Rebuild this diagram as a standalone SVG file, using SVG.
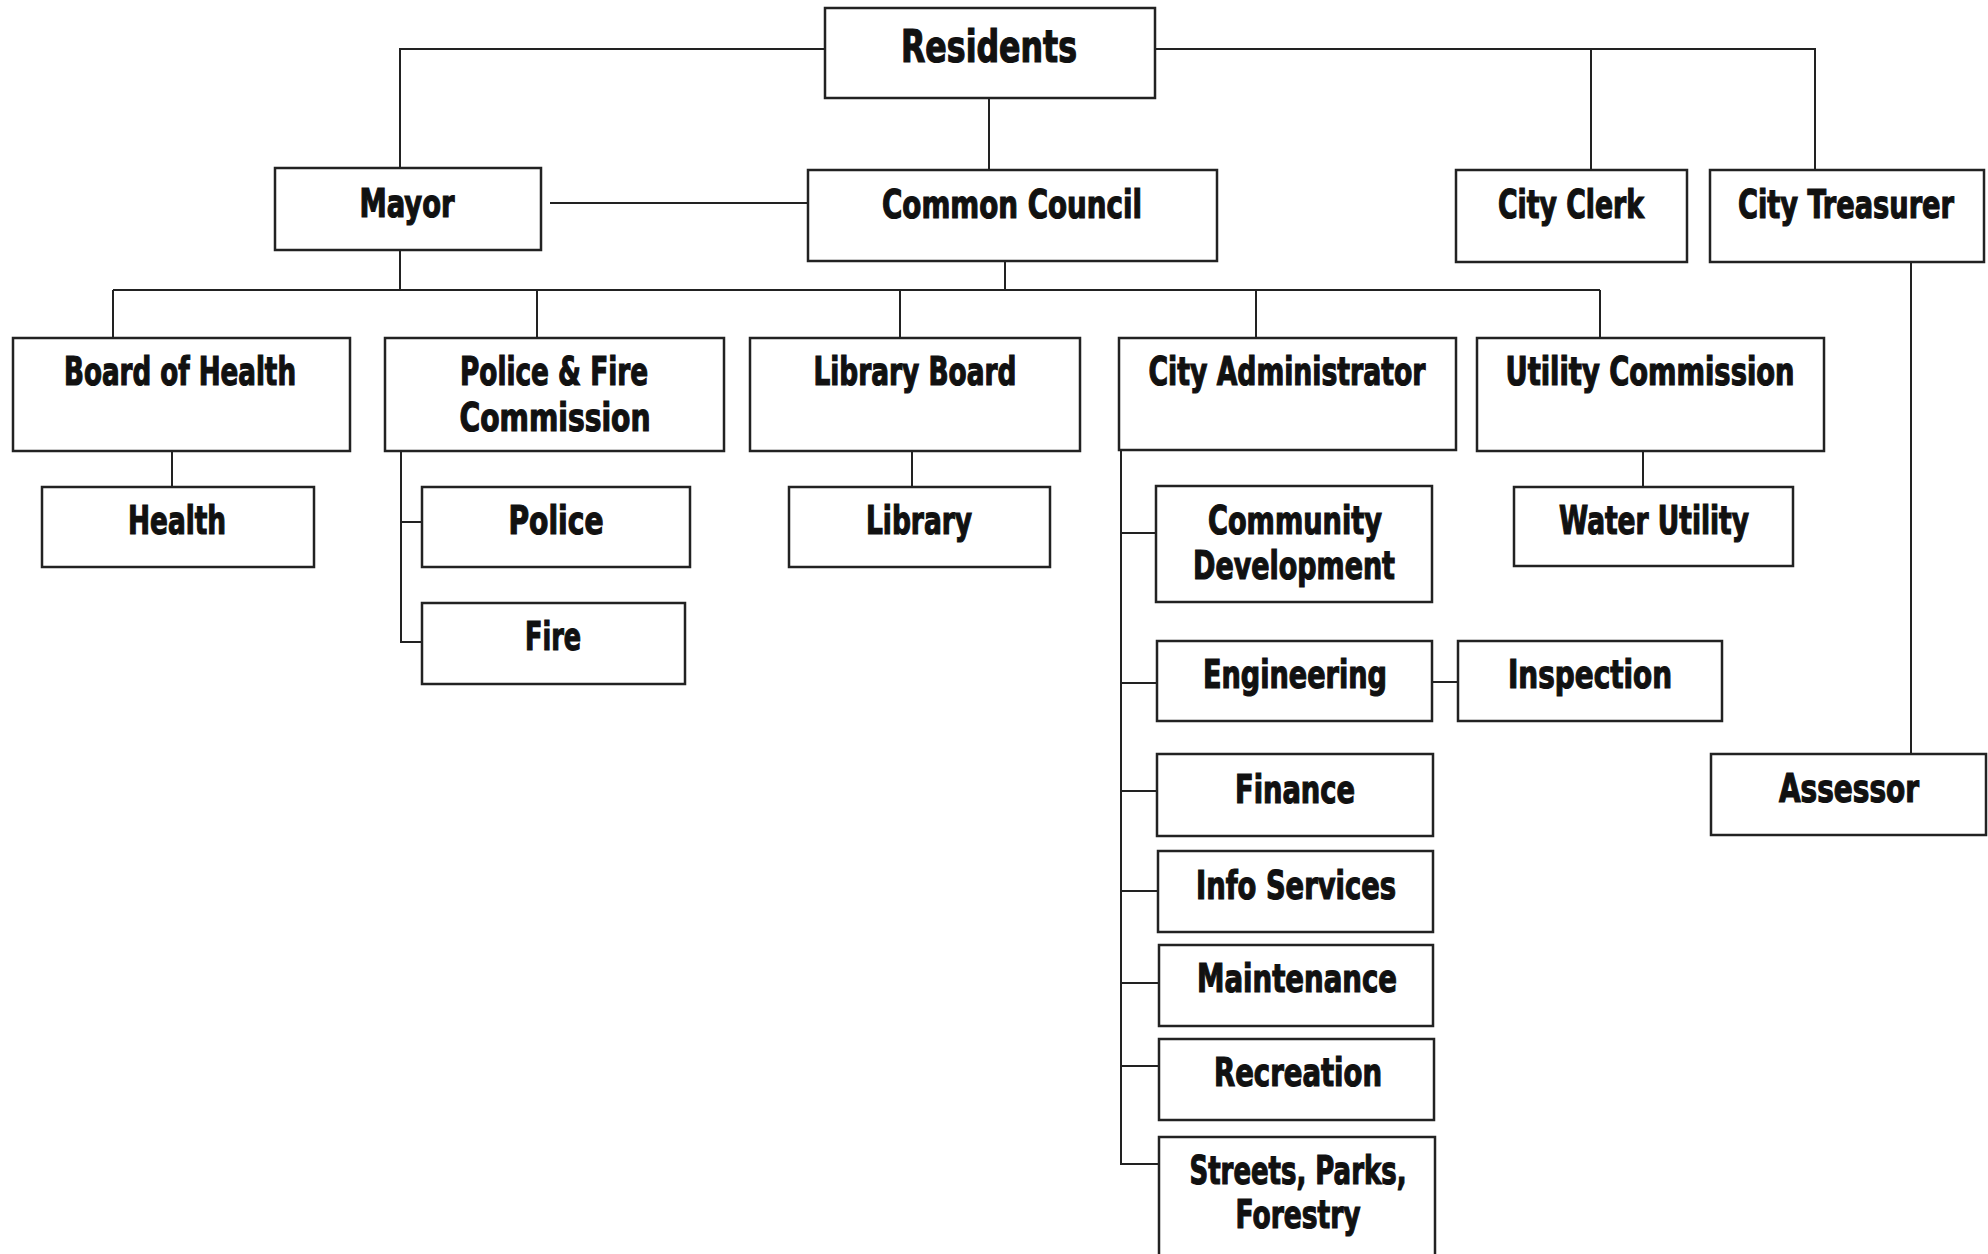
<svg xmlns="http://www.w3.org/2000/svg" width="1988" height="1254" viewBox="0 0 1988 1254">
<style>
.box{fill:#fff;stroke:#222;stroke-width:2.5}
.ln{fill:none;stroke:#222;stroke-width:2}
text{font-family:"DejaVu Sans Condensed","DejaVu Sans","Liberation Sans",sans-serif;font-stretch:condensed;font-weight:bold;font-size:39px;fill:#111;stroke:#111;stroke-width:1.2;text-anchor:middle}
.big{font-size:44px}
</style>
<rect width="1988" height="1254" fill="#fff"/>
<g id="connectors">
<path class="ln" d="M825,49 H400 V168"/>
<path class="ln" d="M1155,49 H1815 V170 M1591,49 V170"/>
<path class="ln" d="M989,98 V170"/>
<path class="ln" d="M550,203 H808"/>
<path class="ln" d="M400,250 V290 M1005,261 V290"/>
<path class="ln" d="M113,290 H1600 M113,290 V338 M537,290 V338 M900,290 V338 M1256,290 V338 M1600,290 V338"/>
<path class="ln" d="M172,451 V487"/>
<path class="ln" d="M401,451 V642 H422 M401,522 H422"/>
<path class="ln" d="M912,451 V487"/>
<path class="ln" d="M1643,451 V487"/>
<path class="ln" d="M1121,450 V1164 H1159 M1121,533 H1156 M1121,683 H1157 M1121,791 H1157 M1121,891 H1158 M1121,983 H1159 M1121,1066 H1159"/>
<path class="ln" d="M1432,682 H1458"/>
<path class="ln" d="M1911,262 V754"/>
</g>
<g id="residents"><rect class="box" x="825" y="8" width="330" height="90"/><text class="big" x="989" y="62" textLength="176" lengthAdjust="spacingAndGlyphs">Residents</text></g>
<g id="mayor"><rect class="box" x="275" y="168" width="266" height="82"/><text x="407" y="217" textLength="95" lengthAdjust="spacingAndGlyphs">Mayor</text></g>
<g id="council"><rect class="box" x="808" y="170" width="409" height="91"/><text x="1012" y="218" textLength="260" lengthAdjust="spacingAndGlyphs">Common Council</text></g>
<g id="clerk"><rect class="box" x="1456" y="170" width="231" height="92"/><text x="1571" y="218" textLength="146" lengthAdjust="spacingAndGlyphs">City Clerk</text></g>
<g id="treasurer"><rect class="box" x="1710" y="170" width="274" height="92"/><text x="1846" y="218" textLength="216" lengthAdjust="spacingAndGlyphs">City Treasurer</text></g>
<g id="boardhealth"><rect class="box" x="13" y="338" width="337" height="113"/><text x="180" y="385" textLength="232" lengthAdjust="spacingAndGlyphs">Board of Health</text></g>
<g id="policefire"><rect class="box" x="385" y="338" width="339" height="113"/><text x="554" y="385" textLength="188" lengthAdjust="spacingAndGlyphs">Police &amp; Fire</text><text x="555" y="431" textLength="191" lengthAdjust="spacingAndGlyphs">Commission</text></g>
<g id="libraryboard"><rect class="box" x="750" y="338" width="330" height="113"/><text x="915" y="385" textLength="203" lengthAdjust="spacingAndGlyphs">Library Board</text></g>
<g id="cityadmin"><rect class="box" x="1119" y="338" width="337" height="112"/><text x="1287" y="385" textLength="277" lengthAdjust="spacingAndGlyphs">City Administrator</text></g>
<g id="utility"><rect class="box" x="1477" y="338" width="347" height="113"/><text x="1650" y="385" textLength="289" lengthAdjust="spacingAndGlyphs">Utility Commission</text></g>
<g id="health"><rect class="box" x="42" y="487" width="272" height="80"/><text x="177" y="534" textLength="98" lengthAdjust="spacingAndGlyphs">Health</text></g>
<g id="police"><rect class="box" x="422" y="487" width="268" height="80"/><text x="556" y="534" textLength="95" lengthAdjust="spacingAndGlyphs">Police</text></g>
<g id="fire"><rect class="box" x="422" y="603" width="263" height="81"/><text x="553" y="650" textLength="56" lengthAdjust="spacingAndGlyphs">Fire</text></g>
<g id="library"><rect class="box" x="789" y="487" width="261" height="80"/><text x="919" y="534" textLength="106" lengthAdjust="spacingAndGlyphs">Library</text></g>
<g id="water"><rect class="box" x="1514" y="487" width="279" height="79"/><text x="1654" y="534" textLength="190" lengthAdjust="spacingAndGlyphs">Water Utility</text></g>
<g id="commdev"><rect class="box" x="1156" y="486" width="276" height="116"/><text x="1295" y="534" textLength="174" lengthAdjust="spacingAndGlyphs">Community</text><text x="1294" y="579" textLength="202" lengthAdjust="spacingAndGlyphs">Development</text></g>
<g id="engineering"><rect class="box" x="1157" y="641" width="275" height="80"/><text x="1295" y="688" textLength="184" lengthAdjust="spacingAndGlyphs">Engineering</text></g>
<g id="inspection"><rect class="box" x="1458" y="641" width="264" height="80"/><text x="1590" y="688" textLength="164" lengthAdjust="spacingAndGlyphs">Inspection</text></g>
<g id="finance"><rect class="box" x="1157" y="754" width="276" height="82"/><text x="1295" y="803" textLength="120" lengthAdjust="spacingAndGlyphs">Finance</text></g>
<g id="info"><rect class="box" x="1158" y="851" width="275" height="81"/><text x="1296" y="899" textLength="200" lengthAdjust="spacingAndGlyphs">Info Services</text></g>
<g id="maintenance"><rect class="box" x="1159" y="945" width="274" height="81"/><text x="1297" y="992" textLength="200" lengthAdjust="spacingAndGlyphs">Maintenance</text></g>
<g id="recreation"><rect class="box" x="1159" y="1039" width="275" height="81"/><text x="1298" y="1086" textLength="168" lengthAdjust="spacingAndGlyphs">Recreation</text></g>
<g id="streets"><rect class="box" x="1159" y="1137" width="276" height="130"/><text x="1298" y="1184" textLength="217" lengthAdjust="spacingAndGlyphs">Streets, Parks,</text><text x="1298" y="1228" textLength="125" lengthAdjust="spacingAndGlyphs">Forestry</text></g>
<g id="assessor"><rect class="box" x="1711" y="754" width="275" height="81"/><text x="1849" y="802" textLength="140" lengthAdjust="spacingAndGlyphs">Assessor</text></g>
</svg>
